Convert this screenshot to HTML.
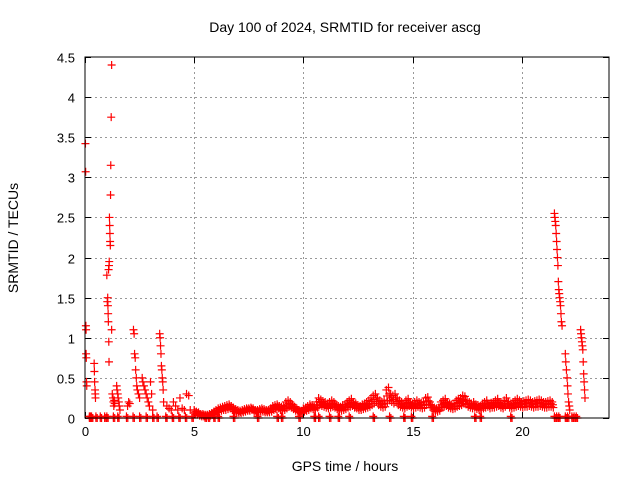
<!DOCTYPE html>
<html><head><meta charset="utf-8">
<style>
html,body{margin:0;padding:0;background:#fff;}
svg{display:block;font-family:"Liberation Sans",sans-serif;}
</style></head>
<body>
<svg id="chart" width="640" height="480" viewBox="0 0 640 480">
<text x="345" y="32" font-size="14" text-anchor="middle">Day 100 of 2024, SRMTID for receiver ascg</text>
<text x="345" y="471" font-size="14" text-anchor="middle">GPS time / hours</text>
<text transform="translate(18,238) rotate(-90)" font-size="14" text-anchor="middle">SRMTID / TECUs</text>
<g id="grid"></g>
<g id="ticks"></g>
<g id="marks"></g>
<rect x="85" y="57" width="524" height="361" fill="none" stroke="#000" stroke-width="1"/>
</svg>
<script>
const xTicks=[0,5,10,15,20];
const yTicks=[0,0.5,1,1.5,2,2.5,3,3.5,4,4.5];
const yTickLabels=["0","0.5","1","1.5","2","2.5","3","3.5","4","4.5"];
const spikeTimes=[0.02,0.03,0.04,0.05,0.05,0.06,0.07,0.08,0.42,0.43,0.44,0.46,0.47,0.48,
1.0,1.02,1.04,1.05,1.06,1.07,1.08,1.09,1.1,1.1,1.11,1.12,1.13,1.14,1.15,1.16,1.17,1.18,1.2,1.22,1.22,1.25,1.28,1.3,1.32,1.34,1.36,
1.45,1.47,1.5,1.52,1.55,1.57,1.6,1.95,2.0,2.05,
2.22,2.25,2.27,2.3,2.32,2.35,2.37,2.4,2.45,2.5,
2.62,2.65,2.7,2.75,2.8,2.85,2.9,2.95,3.0,3.05,3.1,
3.42,3.44,3.46,3.48,3.5,3.52,3.54,3.56,3.58,3.6,
3.75,3.85,3.95,4.05,4.15,4.25,4.35,4.45,4.55,4.65,4.75,4.82,
21.5,21.52,21.54,21.56,21.58,21.6,21.62,21.64,21.66,21.68,21.7,21.72,21.74,21.76,21.78,21.8,21.82,21.85,
22.0,22.02,22.05,22.08,22.1,22.12,22.15,22.18,22.2,
22.7,22.72,22.74,22.76,22.78,22.8,22.82,22.84,22.86,22.88,22.9];
const spikeVals=[3.42,3.07,1.15,1.1,0.8,0.75,0.45,0.4,0.68,0.58,0.45,0.35,0.3,0.25,
1.78,1.45,1.5,1.4,1.3,1.2,1.85,0.95,1.9,0.7,1.95,2.5,2.4,2.3,2.2,2.15,2.78,3.15,3.75,4.4,1.1,0.3,0.25,0.2,0.15,0.22,0.18,
0.4,0.35,0.3,0.25,0.2,0.15,0.1,0.15,0.2,0.18,
1.1,1.05,0.8,0.75,0.6,0.5,0.4,0.35,0.3,0.25,
0.5,0.45,0.4,0.35,0.3,0.25,0.2,0.15,0.45,0.3,0.1,
1.05,1.0,0.9,0.8,0.65,0.6,0.5,0.45,0.35,0.2,
0.15,0.12,0.1,0.2,0.15,0.1,0.25,0.12,0.1,0.3,0.28,0.1,
2.55,2.5,2.45,2.4,2.3,2.2,2.1,2.0,1.9,1.7,1.6,1.55,1.5,1.45,1.4,1.3,1.2,1.15,
0.8,0.7,0.6,0.5,0.4,0.3,0.2,0.15,0.1,
1.1,1.05,1.0,0.95,0.9,0.85,0.7,0.55,0.45,0.35,0.25];
const bandTimes=[];
for(let i=0;i<165;i++){bandTimes.push(5+i*0.1);}
const bandUpper=[0.1,0.08,0.07,0.05,0.05,0.04,0.04,0.05,0.06,0.08,0.1,0.12,0.13,0.14,0.15,0.16,0.17,0.15,0.13,0.11,
0.1,0.09,0.1,0.11,0.12,0.12,0.13,0.12,0.1,0.1,0.11,0.12,0.11,0.1,0.1,0.12,0.15,0.16,0.17,0.15,
0.14,0.15,0.2,0.22,0.2,0.17,0.14,0.12,0.1,0.09,0.12,0.13,0.15,0.17,0.16,0.14,0.2,0.25,0.23,0.21,
0.2,0.18,0.2,0.22,0.2,0.17,0.15,0.14,0.16,0.17,0.2,0.22,0.24,0.2,0.18,0.16,0.15,0.17,0.18,0.2,
0.22,0.25,0.28,0.3,0.25,0.22,0.2,0.22,0.35,0.38,0.3,0.28,0.3,0.25,0.22,0.2,0.18,0.22,0.24,0.2,
0.18,0.2,0.22,0.2,0.19,0.2,0.25,0.26,0.2,0.15,0.13,0.12,0.13,0.2,0.22,0.24,0.2,0.18,0.17,0.18,
0.22,0.24,0.25,0.28,0.27,0.22,0.2,0.18,0.2,0.17,0.16,0.15,0.18,0.2,0.22,0.18,0.19,0.2,0.22,0.24,
0.2,0.18,0.22,0.25,0.2,0.18,0.2,0.22,0.24,0.22,0.2,0.21,0.22,0.23,0.22,0.2,0.21,0.22,0.23,0.22,
0.2,0.2,0.21,0.22,0.2];
const bandLower=[0.05,0.04,0.03,0.02,0.02,0.02,0.02,0.03,0.04,0.05,0.07,0.08,0.09,0.1,0.1,0.11,0.12,0.1,0.08,0.07,
0.06,0.06,0.07,0.08,0.09,0.09,0.1,0.08,0.07,0.07,0.08,0.08,0.07,0.07,0.07,0.08,0.1,0.11,0.12,0.1,
0.09,0.1,0.12,0.14,0.13,0.11,0.09,0.08,0.07,0.06,0.08,0.09,0.1,0.12,0.11,0.1,0.13,0.16,0.15,0.14,
0.13,0.12,0.13,0.14,0.13,0.11,0.1,0.09,0.1,0.11,0.13,0.14,0.15,0.13,0.12,0.1,0.1,0.11,0.12,0.13,
0.14,0.16,0.18,0.2,0.16,0.14,0.13,0.14,0.2,0.22,0.2,0.18,0.2,0.16,0.14,0.13,0.12,0.14,0.15,0.13,
0.12,0.13,0.14,0.13,0.12,0.13,0.16,0.17,0.13,0.1,0.08,0.08,0.09,0.13,0.14,0.15,0.13,0.12,0.11,0.12,
0.14,0.15,0.16,0.18,0.17,0.14,0.13,0.12,0.13,0.11,0.1,0.1,0.12,0.13,0.14,0.12,0.13,0.13,0.14,0.15,
0.13,0.12,0.14,0.16,0.13,0.12,0.13,0.14,0.15,0.14,0.13,0.14,0.14,0.15,0.14,0.13,0.14,0.14,0.15,0.14,
0.13,0.13,0.14,0.14,0.13];
const zeroTimes=[0.2,0.25,0.3,0.5,0.7,0.9,1.0,1.3,1.5,1.9,2.2,2.5,2.8,3.1,3.3,3.7,4.0,4.3,
4.6,4.9,5.5,5.65,5.9,6.1,6.8,7.9,8.8,9.0,9.8,10.5,10.7,11.2,11.6,12.1,13.2,13.95,14.6,14.95,15.9,17.85,18.1,19.5,
21.5,21.6,21.7,22.0,22.1,22.3,22.4,22.5];

const NS="http://www.w3.org/2000/svg";
const L=85,R=609,T=57,B=418;
function sx(h){return L+(h/24)*(R-L);}
function sy(v){return B-(v/4.5)*(B-T);}
const grid=document.getElementById('grid');
const ticks=document.getElementById('ticks');
const marks=document.getElementById('marks');
function line(p,x1,y1,x2,y2,st,dash){const l=document.createElementNS(NS,'line');
l.setAttribute('x1',x1);l.setAttribute('y1',y1);l.setAttribute('x2',x2);l.setAttribute('y2',y2);
l.setAttribute('stroke',st);l.setAttribute('stroke-width',1);if(dash)l.setAttribute('stroke-dasharray',dash);p.appendChild(l);return l;}
xTicks.forEach(t=>{const x=Math.round(sx(t))+0.5;
if(t>0){const g=line(grid,x,T,x,B,'#999','2,3');

}
line(ticks,x,B,x,B-6,'#000');line(ticks,x,T,x,T+6,'#000');
const tx=document.createElementNS(NS,'text');tx.setAttribute('x',x);tx.setAttribute('y',B+18);
tx.setAttribute('font-size','13');tx.setAttribute('text-anchor','middle');tx.textContent=String(t);


ticks.appendChild(tx);});
yTicks.forEach((t,i)=>{const y=Math.round(sy(t))+0.5;
if(t>0&&t<4.5){const g=line(grid,L,y,R,y,'#999','2,3');

}
line(ticks,L,y,L+6,y,'#000');line(ticks,R,y,R-6,y,'#000');
const tx=document.createElementNS(NS,'text');tx.setAttribute('x',L-10);tx.setAttribute('y',y+5);
tx.setAttribute('font-size','13');tx.setAttribute('text-anchor','end');tx.textContent=yTickLabels[i];


ticks.appendChild(tx);});
function plus(h,v){const x=sx(h),y=sy(v);const p=document.createElementNS(NS,'path');
p.setAttribute('d','M'+(x-4)+' '+y+'H'+(x+4)+'M'+x+' '+(y-4)+'V'+(y+4));
p.setAttribute('stroke','#f00');p.setAttribute('stroke-width','1.2');p.setAttribute('fill','none');


marks.appendChild(p);}
spikeTimes.forEach((h,i)=>plus(h,spikeVals[i]));
bandTimes.forEach((h,i)=>{plus(h,bandUpper[i]);plus(h+0.05,bandLower[i]);plus(h+0.03,(bandUpper[i]+bandLower[i])/2);});
zeroTimes.forEach(h=>{plus(h,0);plus(h+0.06,0);plus(h,0.02);});
</script>
</body></html>
